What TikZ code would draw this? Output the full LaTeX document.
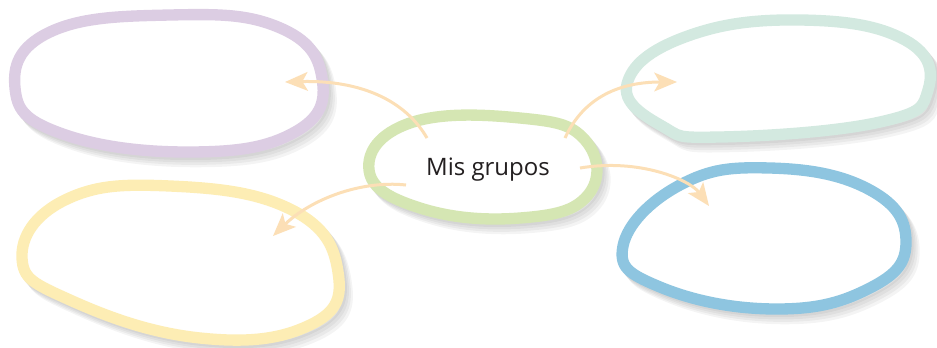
\documentclass[tikz,border=0pt]{standalone}
\usepackage{fontspec}
\setmainfont{Open Sans}
\usetikzlibrary{arrows.meta}
\definecolor{lila}{HTML}{DCCDE3}
\definecolor{amarillo}{HTML}{FDEDB4}
\definecolor{menta}{HTML}{D3E9E0}
\definecolor{celeste}{HTML}{8EC5E0}
\definecolor{verde}{HTML}{D5E6B3}
\definecolor{melocoton}{HTML}{FCDFB6}
\definecolor{tinta}{HTML}{231F20}
\newcommand\lilablob{plot[smooth cycle,tension=0.75] coordinates{(15,88) (50,32) (170,15) (278,27) (322,78) (295,132) (190,152) (60,133)}}
\newcommand\amarilloblob{plot[smooth cycle,tension=0.75] coordinates{(22,258) (65,200) (170,186) (292,210) (338,272) (310,325) (200,338) (70,300)}}
\newcommand\mentablob{plot[smooth cycle,tension=0.75] coordinates{(627,84) (685,37) (800,20) (905,40) (928,90) (880,122) (720,137) (662,126)}}
\newcommand\celesteblob{plot[smooth cycle,tension=0.75] coordinates{(623,246) (680,185) (770,168) (870,190) (906,242) (870,288) (775,309) (660,287)}}
\newcommand\verdeblob{plot[smooth cycle,tension=0.75] coordinates{(369,170) (410,123) (520,118) (585,140) (588,195) (520,218) (420,208)}}
\tikzset{
  blob/.style={line width=8.5pt, fill=white},
  sombra/.style={line width=8.5pt, draw=black, opacity=0.045},
  link/.style={draw=melocoton, line width=2.25pt, -{Stealth[length=17pt,width=14pt,inset=4pt]}}
}
\begin{document}
\begin{tikzpicture}[x=0.75pt,y=-0.75pt]
\useasboundingbox (0,0) rectangle (937,347);
%shadows
\foreach \s in {2,4,6,8}{
  \foreach \b in {\lilablob,\amarilloblob,\mentablob,\celesteblob,\verdeblob}{
    \draw[sombra,shift={(\s,1.2*\s)}] \b;}}
%blobs
\draw[blob,draw=lila] \lilablob;
\draw[blob,draw=amarillo] \amarilloblob;
\draw[blob,draw=menta] \mentablob;
\draw[blob,draw=celeste] \celesteblob;
\draw[blob,draw=verde] \verdeblob;
%centre
\node[anchor=base,text=tinta,font=\fontsize{18}{21}\selectfont] (grupos) at (488,175) {Mis grupos};
%arrow ends
\coordinate (s1) at (427,138); \coordinate (t1) at (285,82);
\coordinate (s2) at (565,138); \coordinate (t2) at (677,82);
\coordinate (s3) at (406,185); \coordinate (t3) at (273,236);
\coordinate (s4) at (580,168); \coordinate (t4) at (709,206);
%arrows
\draw[link] (s1) .. controls (405,100) and (360,80) .. (t1);
\draw[link] (s2) .. controls (580,105) and (610,82) .. (t2);
\draw[link] (s3) .. controls (360,180) and (310,200) .. (t3);
\draw[link] (s4) .. controls (640,158) and (690,180) .. (t4);
\end{tikzpicture}
\end{document}
